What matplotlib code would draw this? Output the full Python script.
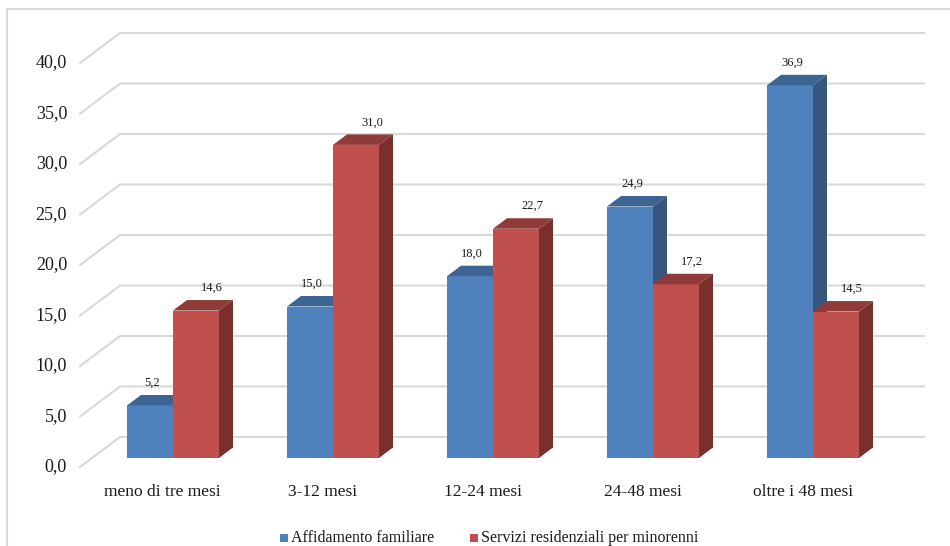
import matplotlib
matplotlib.use("Agg")
import matplotlib.pyplot as plt
from matplotlib.patches import Polygon, Rectangle

plt.rcParams['font.family'] = ['Liberation Serif', 'DejaVu Serif']

categories = ["meno di tre mesi", "3-12 mesi", "12-24 mesi", "24-48 mesi", "oltre i 48 mesi"]
series_names = ["Affidamento familiare", "Servizi residenziali per minorenni"]
affidamento = [5.2, 15.0, 18.0, 24.9, 36.9]
servizi = [14.6, 31.0, 22.7, 17.2, 14.5]
y_ticks = [0, 5, 10, 15, 20, 25, 30, 35, 40]

# face colours: front, top, side
styles = [
    ("#4F81BD", "#3D6594", "#34567F"),
    ("#C0504D", "#8E3B39", "#7B2F2D"),
]

W, H = 950, 546
fig = plt.figure(figsize=(W / 100, H / 100), dpi=100)
ax = fig.add_axes([0, 0, 1, 1])
ax.set_axis_off()

# x: category units (160 px each), y: value units (10.1 px each)
PX_X, PX_Y = 160.0, 10.1
ax.set_xlim(-173 / PX_X, (W - 173) / PX_X)
ax.set_ylim((458 - H) / PX_Y, 458 / PX_Y)

# oblique depth direction of the 3-D box (per unit depth)
DX, DY = 40 / PX_X, 30 / PX_Y
D_FRONT, D_BACK = -0.3, 0.7          # wall depth, bars sit at d=0
BAR_DEPTH = 0.35
BAR_W = 46 / PX_X
X_LEFT, X_RIGHT = -0.506, 4.519


def proj(x, v, d):
    return (x + d * DX, v + d * DY)


grid_c = "#D9D9D9"
for t in y_ticks:
    p0 = proj(X_LEFT, t, D_FRONT)
    p1 = proj(X_LEFT, t, D_BACK)
    p2 = proj(X_RIGHT, t, D_BACK)
    ax.plot([p0[0], p1[0], p2[0]], [p0[1], p1[1], p2[1]], color=grid_c,
            lw=1.5, zorder=1, solid_joinstyle="miter")
    ax.text(p0[0] - 13 / PX_X, p0[1], f"{t:.1f}".replace(".", ","),
            ha="right", va="center", fontsize=13, color="#1a1a1a")


def bar3d(x0, v, cols):
    front, top, side = cols
    x1 = x0 + BAR_W
    dx, dy = BAR_DEPTH * DX, BAR_DEPTH * DY
    ax.add_patch(Polygon([(x0, 0), (x1, 0), (x1, v), (x0, v)],
                         closed=True, facecolor=front, edgecolor="none", zorder=3))
    ax.add_patch(Polygon([(x0, v), (x1, v), (x1 + dx, v + dy), (x0 + dx, v + dy)],
                         closed=True, facecolor=top, edgecolor="none", zorder=3))
    ax.add_patch(Polygon([(x1, 0), (x1 + dx, dy), (x1 + dx, v + dy), (x1, v)],
                         closed=True, facecolor=side, edgecolor="none", zorder=3))


label_shift = [0.012, 0.1]
for i, cat in enumerate(categories):
    for s, vals in enumerate([affidamento, servizi]):
        x0 = i - BAR_W + s * BAR_W
        v = vals[i]
        bar3d(x0, v, styles[s])
        ax.text(x0 + BAR_W / 2 + label_shift[s], v + BAR_DEPTH * DY + 12 / PX_Y,
                f"{v:.1f}".replace(".", ","), ha="center", va="center",
                fontsize=9, color="#1a1a1a", zorder=5)
    ax.text(i - 0.065, -38 / PX_Y, cat, ha="center", va="baseline",
            fontsize=12.5, color="#1a1a1a")

# legend
leg_y = -80 / PX_Y
leg_x = [(280 - 173) / PX_X, (470 - 173) / PX_X]
for s, name in enumerate(series_names):
    ax.add_patch(Rectangle((leg_x[s], leg_y - 4 / PX_Y), 8 / PX_X, 8 / PX_Y,
                           facecolor=styles[s][0], edgecolor="none"))
    ax.text(leg_x[s] + 11 / PX_X, leg_y, name, ha="left", va="center",
            fontsize=11.5, color="#1a1a1a")

# chart border
fig.patches.append(Rectangle((7 / W, -0.1), 2, 1.1 - 9 / H, transform=fig.transFigure,
                             fill=False, edgecolor="#D9D9D9", lw=1.5))

fig.savefig("out.png", dpi=100)
